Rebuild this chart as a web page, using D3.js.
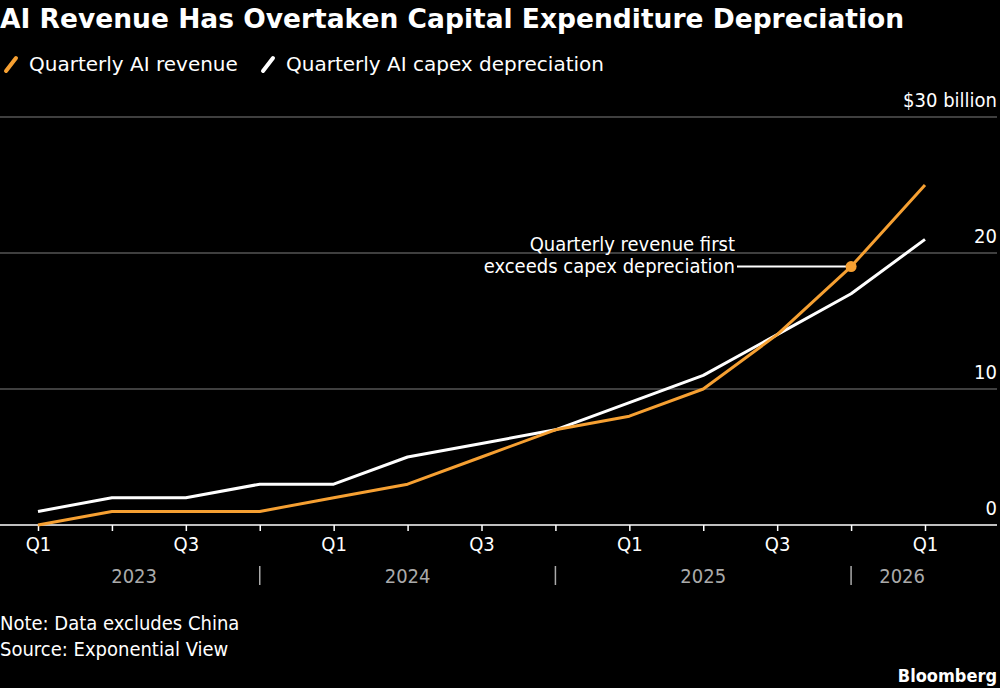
<!DOCTYPE html>
<html>
<head>
<meta charset="utf-8">
<script src="https://cdn.jsdelivr.net/npm/d3@7"></script>
<style>
  html, body { margin: 0; padding: 0; background: #000; }
  svg text { font-family: "DejaVu Sans Condensed", "DejaVu Sans", sans-serif; }
</style>
</head>
<body>
<div id="chart"></div>
<script>
// quarterly values, $ billion
var quarters = ["Q1 2023","Q2 2023","Q3 2023","Q4 2023",
                "Q1 2024","Q2 2024","Q3 2024","Q4 2024",
                "Q1 2025","Q2 2025","Q3 2025","Q4 2025","Q1 2026"];
var revenue      = [0, 1, 1, 1, 2, 3, 5, 7, 8, 10, 14, 19, 25];
var depreciation = [1, 2, 2, 3, 3, 5, 6, 7, 9, 11, 14, 17, 21];
var yTicks = [0, 10, 20, 30];
var years = ["2023", "2024", "2025", "2026"];
var crossQuarter = "Q4 2025";
var crossValue = 19;

var W = 1000, H = 688;
var orange = "#f6a032";
var wide = "DejaVu Sans, sans-serif";

var svg = d3.select("#chart").append("svg")
   .attr("width", W).attr("height", H)
   .style("background", "#000");

// scales
var x = d3.scalePoint().domain(quarters).range([38, 925]);
var y = d3.scaleLinear().domain([0, 30]).range([525, 117]);
var step = x.step();

// title
svg.append("text").attr("x", 0).attr("y", 28)
   .attr("fill", "#fff").attr("font-size", 26.5).attr("font-weight", "bold")
   .style("font-family", wide)
   .text("AI Revenue Has Overtaken Capital Expenditure Depreciation");

// legend
var legend = [{label: "Quarterly AI revenue", color: orange, x: 5},
              {label: "Quarterly AI capex depreciation", color: "#fff", x: 262}];
legend.forEach(function(d){
   svg.append("line")
      .attr("x1", d.x + 1).attr("y1", 71).attr("x2", d.x + 11).attr("y2", 58)
      .attr("stroke", d.color).attr("stroke-width", 4).attr("stroke-linecap", "round");
   svg.append("text").attr("x", d.x + 24).attr("y", 71)
      .attr("fill", "#fff").attr("font-size", 20)
      .style("font-family", wide).text(d.label);
});

// grid lines and y labels
var gGrid = svg.append("g");
gGrid.selectAll("line").data(yTicks.filter(function(d){return d > 0;})).enter()
   .append("line")
   .attr("x1", 0).attr("x2", 997)
   .attr("y1", function(d){return y(d);}).attr("y2", function(d){return y(d);})
   .attr("stroke", "#555").attr("stroke-width", 1.5);
gGrid.selectAll("text").data(yTicks).enter()
   .append("text")
   .attr("x", 997).attr("y", function(d){return y(d) - 10;})
   .attr("text-anchor", "end").attr("fill", "#fff").attr("font-size", 20)
   .text(function(d){return d == 30 ? "$30 billion" : d;});

// x axis
var xAxis = d3.axisBottom(x).tickSize(6).tickPadding(6)
   .tickFormat(function(d){ var q = d.split(" ")[0]; return (q == "Q1" || q == "Q3") ? q : ""; });
var gx = svg.append("g").attr("transform", "translate(0," + y(0) + ")").call(xAxis);
gx.select(".domain").remove();
gx.selectAll(".tick line").attr("stroke", "#fff").attr("stroke-width", 1.5);
gx.selectAll(".tick text").attr("fill", "#fff").attr("font-size", 20)
   .style("font-family", "DejaVu Sans Condensed, DejaVu Sans, sans-serif");
svg.append("line").attr("x1", 0).attr("x2", 997)
   .attr("y1", y(0)).attr("y2", y(0))
   .attr("stroke", "#fff").attr("stroke-width", 1.5);

// year labels and separators
var xs = quarters.map(function(q){return x(q);});
var bounds = [xs[0] - 0.4 * step];
years.forEach(function(yr, i){
   var last = quarters.filter(function(q){return q.split(" ")[1] == yr;});
   var q4 = last[last.length - 1];
   bounds.push(last.length == 4 ? x(q4) : x(q4) + 0.38 * step);
});
years.forEach(function(yr, i){
   svg.append("text")
      .attr("x", (bounds[i] + bounds[i + 1]) / 2).attr("y", 583)
      .attr("text-anchor", "middle").attr("fill", "#aaa").attr("font-size", 20)
      .text(yr);
   if (i > 0) {
      svg.append("line")
         .attr("x1", bounds[i]).attr("x2", bounds[i])
         .attr("y1", 566).attr("y2", 585)
         .attr("stroke", "#aaa").attr("stroke-width", 1.5);
   }
});

// lines
var line = d3.line()
   .x(function(d, i){return x(quarters[i]);})
   .y(function(d){return y(d);});
svg.append("path").datum(depreciation)
   .attr("d", line).attr("fill", "none")
   .attr("stroke", "#fff").attr("stroke-width", 3).attr("stroke-linejoin", "round");
svg.append("path").datum(revenue)
   .attr("d", line).attr("fill", "none")
   .attr("stroke", orange).attr("stroke-width", 3).attr("stroke-linejoin", "round");

// annotation
var cx = x(crossQuarter), cy = y(crossValue);
svg.append("line").attr("x1", 737).attr("x2", cx)
   .attr("y1", cy).attr("y2", cy)
   .attr("stroke", "#fff").attr("stroke-width", 2);
svg.append("circle").attr("cx", cx).attr("cy", cy).attr("r", 5.5).attr("fill", orange);
svg.append("text").attr("x", 735).attr("y", 251)
   .attr("text-anchor", "end").attr("fill", "#fff").attr("font-size", 20)
   .text("Quarterly revenue first");
svg.append("text").attr("x", 735).attr("y", 273)
   .attr("text-anchor", "end").attr("fill", "#fff").attr("font-size", 20)
   .text("exceeds capex depreciation");

// footer
svg.append("text").attr("x", 0).attr("y", 630)
   .attr("fill", "#fff").attr("font-size", 20).text("Note: Data excludes China");
svg.append("text").attr("x", 0).attr("y", 656)
   .attr("fill", "#fff").attr("font-size", 20).text("Source: Exponential View");
svg.append("text").attr("x", 997).attr("y", 682)
   .attr("text-anchor", "end").attr("fill", "#fff").attr("font-size", 18)
   .attr("font-weight", "bold").text("Bloomberg");
</script>
</body>
</html>
